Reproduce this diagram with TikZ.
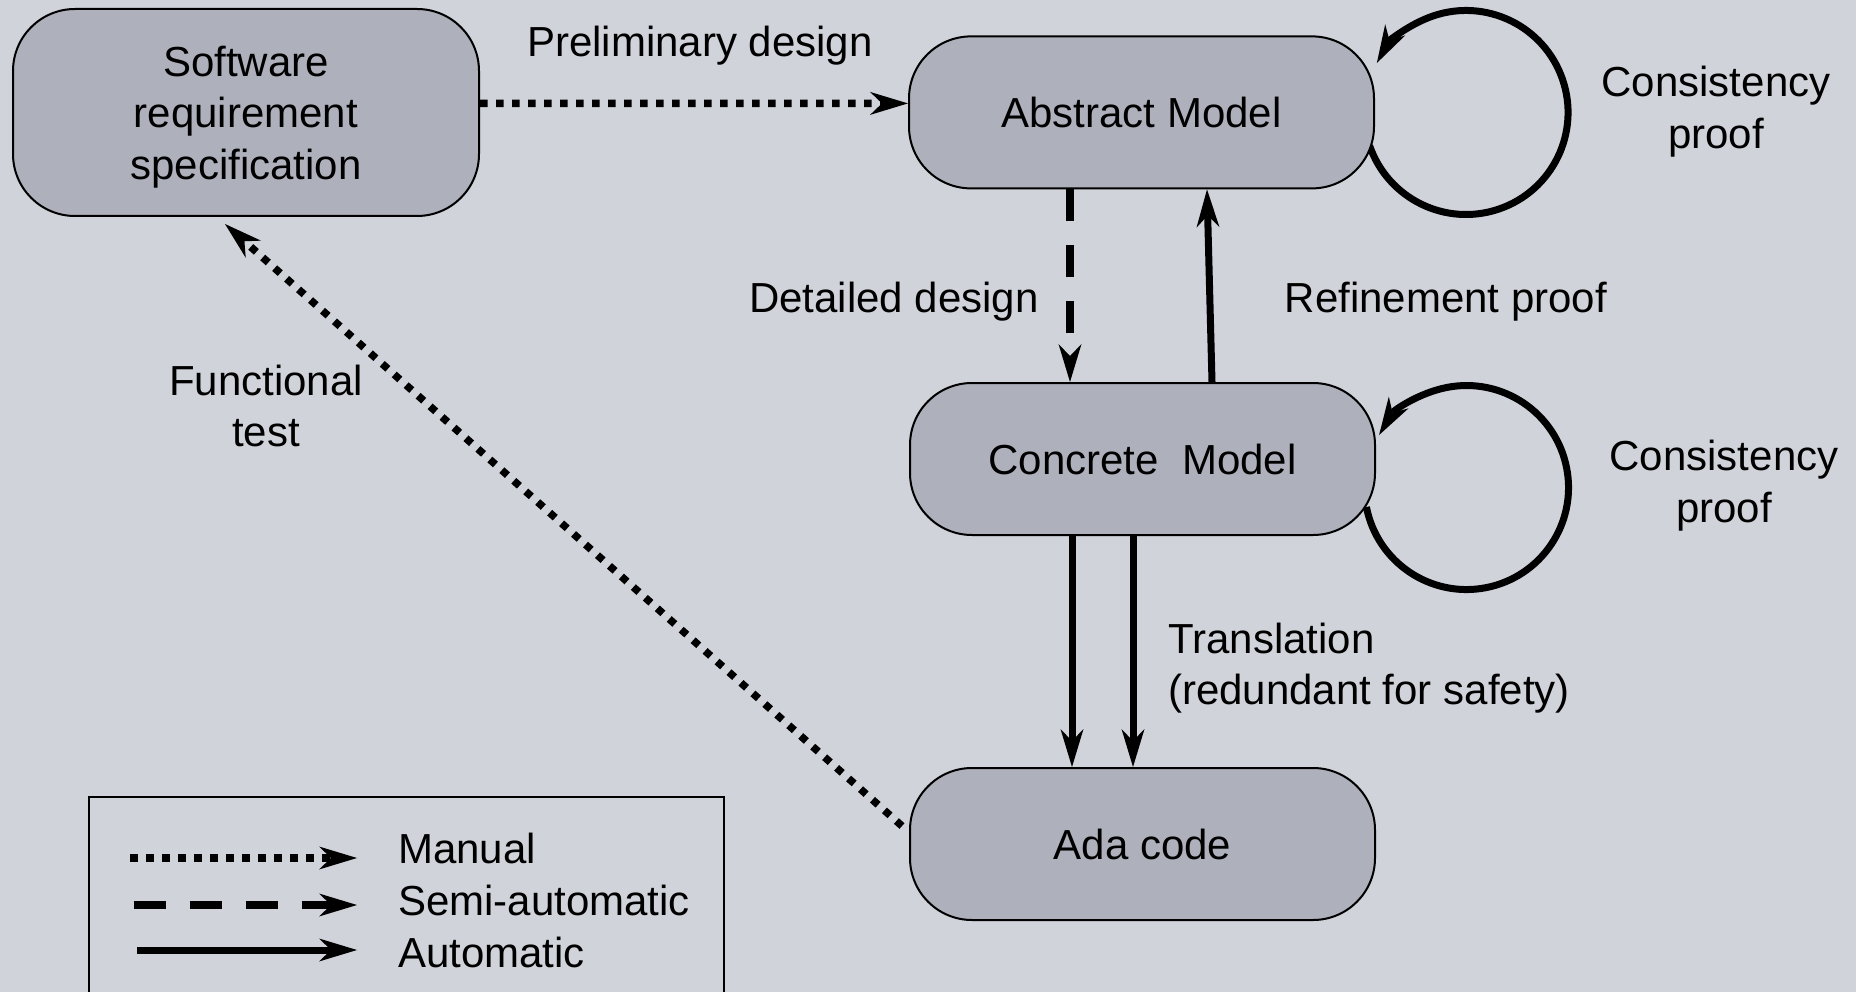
\documentclass[tikz,border=0pt]{standalone}
\usepackage{fontspec}
\setmainfont{Liberation Sans}
\usetikzlibrary{arrows.meta,calc}

\definecolor{bgcol}{HTML}{D0D3DA}
\definecolor{boxfill}{HTML}{AEB1BC}

\tikzset{
  every node/.style={font=\fontsize{42pt}{51.5pt}\selectfont, text=black},
  stage/.style={draw=black, line width=2pt, fill=boxfill, rounded corners=62pt,
                minimum width=465pt, minimum height=152pt, align=center, inner sep=0pt},
  tip/.style={-{Stealth[length=38pt, width=23pt, inset=12pt, line width=0pt]}},
  manual/.style={tip, line width=7.5pt, dash pattern=on 7.5pt off 8.5pt},
  semiauto/.style={tip, line width=7.5pt, dash pattern=on 32pt off 24pt},
  automatic/.style={tip, line width=7pt},
  lbl/.style={align=center, inner sep=0pt},
}

\begin{document}
\begin{tikzpicture}[x=1pt, y=-1pt]
  % canvas
  \fill[bgcol] (0,0) rectangle (1856,992);
  \useasboundingbox (0,0) rectangle (1856,992);

  % self loops (drawn first so the boxes cover their feet)
  \coordinate (amc) at (1141.5,112.4);
  \coordinate (cmc) at (1142.5,459);
  \draw[automatic] ($(amc)+(228.1,33.3)$) arc[start angle=161, end angle=-151, radius=102];
  \draw[automatic] ($(cmc)+(223.9,48)$) arc[start angle=169, end angle=-149, radius=102];

  % stages
  \node[stage, minimum width=466pt, minimum height=207pt, text depth=0pt] (srs) at (246,112.5)
       {Software\\requirement\\specification};
  \node[stage] (am)  at (amc) {Abstract Model};
  \node[stage] (cm)  at (cmc) {Concrete\ \ Model};
  \node[stage] (ada) at (1142.5,844) {Ada code};

  % transitions
  \draw[manual]   ($(srs.east)+(0,-9)$) -- ($(am.west)+(0,-9)$);
  \draw[semiauto] ($(am.south)+(-71.5,0)$) -- ($(cm.north)+(-72.5,0)$);
  \draw[automatic] ($(cm.north)+(69.5,0)$) -- ($(am.south)+(65.5,0)$);
  \draw[automatic] ($(cm.south)+(-70.5,0)$) -- ($(ada.north)+(-70.5,0)$);
  \draw[automatic] ($(cm.south)+(-9.5,0)$) -- ($(ada.north)+(-9.5,0)$);
  \draw[manual]   ($(ada.west)+(-7,-18)$) -- ($(srs.south)+(-21,7)$);

  % labels
  \node[lbl] (lprelim) at (700,46)   {Preliminary design};
  \node[lbl] (ldetail) at (894,302)  {Detailed design};
  \node[lbl] (lrefine) at (1446,302) {Refinement proof};
  \node[lbl] (lcons1)  at (1716,111.5) {Consistency\\proof};
  \node[lbl] (lcons2)  at (1724,485.5) {Consistency\\proof};
  \node[lbl] (lfunc)   at (266,406)  {Functional\\test};
  \node[lbl, align=left, anchor=west] (ltrans) at (1168,668)
       {Translation\\(redundant for safety)};

  % legend
  \draw[line width=2pt] (89,1000) -- (89,797) -- (724,797) -- (724,1000);
  \coordinate (k1a) at (130,858);  \coordinate (k1b) at (357,858);
  \coordinate (k2a) at (134,905);  \coordinate (k2b) at (357,905);
  \coordinate (k3a) at (137,950);  \coordinate (k3b) at (357,950);
  \draw[manual]    (k1a) -- (k1b);
  \draw[semiauto]  (k2a) -- (k2b);
  \draw[automatic] (k3a) -- (k3b);
  \node[lbl, anchor=west] (kman)  at (398,848.5) {Manual};
  \node[lbl, anchor=west] (ksemi) at (398,900.6) {Semi-automatic};
  \node[lbl, anchor=west] (kauto) at (398,952.5) {Automatic};
\end{tikzpicture}
\end{document}
